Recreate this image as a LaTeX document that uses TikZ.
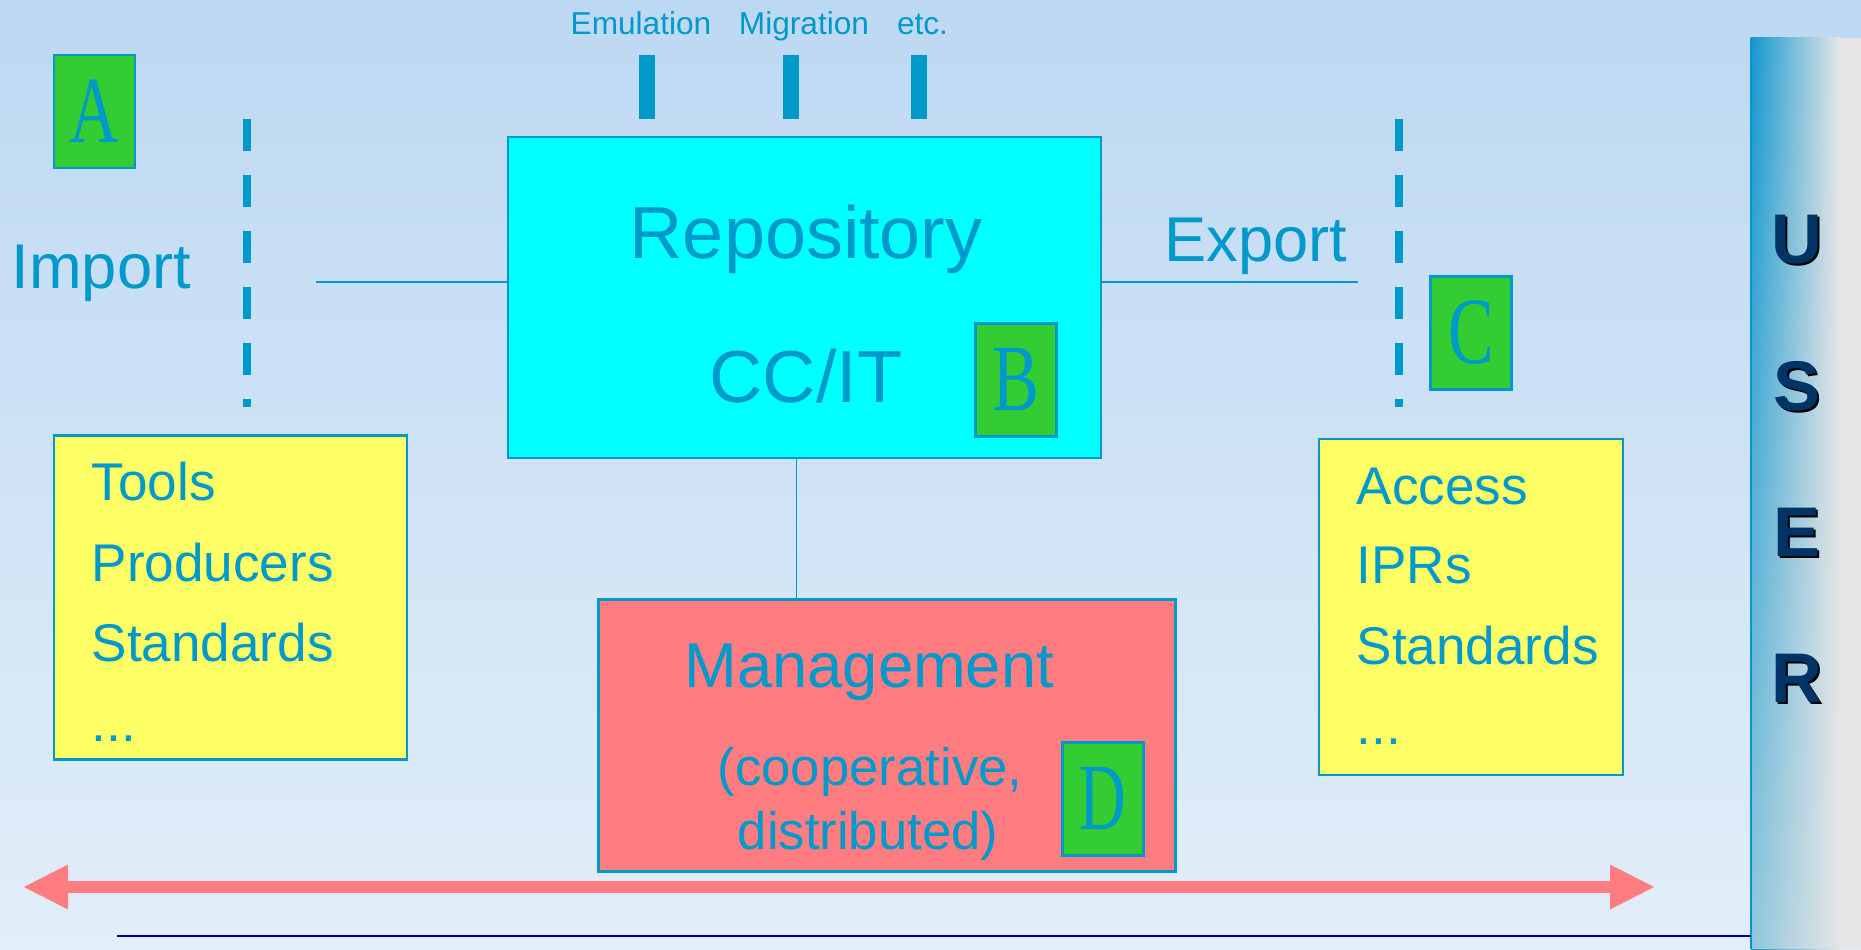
\documentclass[tikz,border=0pt]{standalone}
\usepackage{graphicx}
\usepackage{fontspec}
\setmainfont{Liberation Sans}
\newfontfamily\letterfont{Liberation Serif}
\usetikzlibrary{arrows.meta,fadings}

\definecolor{txtblue}{RGB}{0,153,204}
\definecolor{repocyan}{RGB}{0,255,255}
\definecolor{boxgreen}{RGB}{51,204,51}
\definecolor{noteyellow}{RGB}{255,255,102}
\definecolor{salmon}{RGB}{255,124,128}
\definecolor{bgtop}{RGB}{189,216,242}
\definecolor{bgbot}{RGB}{226,238,249}
\definecolor{navy}{RGB}{0,51,102}
\definecolor{rulenavy}{RGB}{0,0,153}
\definecolor{panelgrey}{RGB}{230,230,230}
\definecolor{panelblue}{RGB}{20,152,208}

\tikzfading[name=fadedown, top color=transparent!100, bottom color=transparent!40]

\begin{document}
\begin{tikzpicture}[
	box/.style={draw=txtblue, line width=0.6pt, inner sep=0pt},
	greenbox/.style={box, fill=boxgreen, minimum width=0.81cm, minimum height=1.13cm, text=txtblue, font=\letterfont\fontsize{27}{27}\selectfont},
	txt/.style={text=txtblue, inner sep=0pt, anchor=base west},
	bigtxt/.style={txt, font=\fontsize{21}{25}\selectfont},
	midtxt/.style={txt, font=\fontsize{18}{22}\selectfont},
	smalltxt/.style={txt, font=\fontsize{15}{18}\selectfont},
	listtxt/.style={txt, font=\fontsize{15.1}{18}\selectfont},
	toptxt/.style={text=txtblue, inner sep=0pt, anchor=base, font=\fontsize{9}{11}\selectfont},
	usertxt/.style={text=navy, inner sep=0pt, font=\bfseries\fontsize{20}{20}\selectfont},
	divider/.style={txtblue, line width=0.08cm, dash pattern=on 0.32cm off 0.24cm},
	conn/.style={txtblue, line width=0.5pt},
	dblarrow/.style={salmon, line width=0.12cm, >={Triangle[length=4.4mm,width=4.5mm,line width=0pt]}, <->}
]
	\useasboundingbox (0,0) rectangle (18.61,9.49);
	\shade[top color=bgtop, bottom color=bgbot] (0,0) rectangle (18.61,9.49);

	% user panel
	\fill[panelgrey] (17.51,0) rectangle (18.61,9.11);
	\shade[left color=panelblue, right color=panelgrey] (17.51,0) rectangle (18.40,9.11);
	\fill[panelgrey, path fading=fadedown] (17.51,0) rectangle (18.40,9.11);
	\draw[txtblue, line width=0.6pt] (17.51,0) -- (17.51,9.11);
	\foreach \ch [count=\i] in {U,S,E,R} {
		\node[usertxt, text=black] (ushadow\i) at (17.985,{7.09-1.46*(\i-1)-0.02}) {\ch};
		\node[usertxt] (user\i) at (17.965,{7.09-1.46*(\i-1)}) {\ch};
	}

	% boxes
	\node[box, fill=repocyan, minimum width=5.93cm, minimum height=3.21cm] (repo) at (8.045,6.515) {};
	\node[box, fill=salmon, minimum width=5.77cm, minimum height=2.72cm] (mgmt) at (8.87,2.135) {};
	\node[box, fill=noteyellow, minimum width=3.53cm, minimum height=3.24cm] (tools) at (2.308,3.515) {};
	\node[box, fill=noteyellow, minimum width=3.04cm, minimum height=3.36cm] (access) at (14.71,3.42) {};

	\node[bigtxt] (repotxt) at (6.29,6.90) {Repository};
	\node[bigtxt] (cctxt) at (7.09,5.46) {CC/IT};
	\node[midtxt] (mgmttxt) at (6.84,2.62) {Management};
	\node[smalltxt] (coop) at (7.17,1.64) {(cooperative,};
	\node[smalltxt] (distr) at (7.37,1.00) {distributed)};

	\foreach \txt [count=\i] in {Tools,Producers,Standards}
		\node[listtxt] (tool\i) at (0.91,{4.48-0.8*(\i-1)}) {\txt};
	\node[listtxt] (tool4) at (0.91,2.08) {...};
	\foreach \txt [count=\i] in {Access,IPRs,Standards}
		\node[listtxt] (acc\i) at (13.56,{4.45-0.8*(\i-1)}) {\txt};
	\node[listtxt] (acc4) at (13.56,2.05) {...};

	\node[midtxt] (import) at (0.11,6.60) {Import};
	\node[midtxt] (export) at (11.64,6.87) {Export};

	% green markers
	\node[greenbox] (boxA) at (0.945,8.375) {\scalebox{0.72}[1]{A}};
	\node[greenbox] (boxB) at (10.16,5.69) {\scalebox{0.74}[1]{B}};
	\node[greenbox] (boxC) at (14.71,6.16) {\scalebox{0.72}[1]{C}};
	\node[greenbox] (boxD) at (11.03,1.50) {\scalebox{0.68}[1]{D}};

	% top labels and bars
	\node[toptxt] (emu) at (6.41,9.14) {Emulation};
	\node[toptxt] (migr) at (8.04,9.14) {Migration};
	\node[toptxt] (etc) at (9.225,9.14) {etc.};
	\foreach \x in {6.47,7.91,9.19}
		\fill[txtblue] ({\x-0.08},8.30) rectangle ({\x+0.08},8.94);

	\draw[divider] (2.47,8.30) -- (2.47,5.42);
	\draw[divider] (13.99,8.30) -- (13.99,5.42);

	% connectors
	\coordinate (impend) at (3.16,6.67);
	\coordinate (expend) at (13.58,6.67);
	\coordinate (mgtop) at ([xshift=-0.08cm]repo.south);
	\draw[conn] (impend) -- (impend -| repo.west);
	\draw[conn] (repo.east |- expend) -- (expend);
	\draw[conn] (mgtop) -- (mgtop |- mgmt.north);

	\coordinate (arrL) at (0.24,0.62);
	\coordinate (arrR) at (16.54,0.62);
	\draw[dblarrow] (arrL) -- (arrR);

	\coordinate (ruleL) at (1.17,0.13);
	\coordinate (ruleR) at (17.51,0.13);
	\draw[rulenavy, line width=0.6pt] (ruleL) -- (ruleR);
\end{tikzpicture}
\end{document}
